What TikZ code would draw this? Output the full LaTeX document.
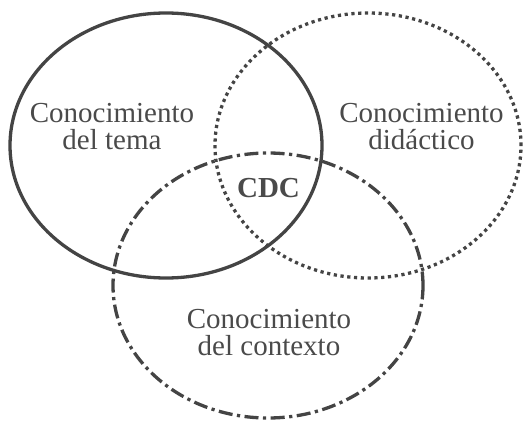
\documentclass[tikz,border=0pt]{standalone}
\usepackage{fontspec}
\setmainfont{Liberation Serif}
\definecolor{ln}{HTML}{444444}
\definecolor{tx}{HTML}{4A4A4A}
\begin{document}
\begin{tikzpicture}[x=1pt,y=-1pt,
  ring/.style={draw=ln,line width=3.3pt},
  dotring/.style={ring,dash pattern=on 3.2pt off 3.6pt},
  dashdotring/.style={ring,dash pattern=on 14pt off 4.5pt on 3.2pt off 4.5pt},
  lbl/.style={text=tx,align=center,inner sep=0pt,font=\fontsize{29}{27}\selectfont},
  core/.style={text=tx,inner sep=0pt,font=\fontsize{29}{29}\selectfont\bfseries}]
\useasboundingbox (0,0) rectangle (524,422);
\coordinate (ca) at (166,145.5);
\coordinate (cb) at (368,145.5);
\coordinate (cc) at (268,285.5);
\draw[ring] (ca) ellipse [x radius=156pt, y radius=132.5pt];
\draw[dotring] (cb) ellipse [x radius=153pt, y radius=132.5pt];
\draw[dashdotring] (cc) ellipse [x radius=155pt, y radius=132.5pt];
\node[lbl] (tema) at (112,127) {Conocimiento\\del tema};
\node[lbl] (did) at (421.5,127) {Conocimiento\\didáctico};
\node[lbl] (ctx) at (269,333) {Conocimiento\\del contexto};
\node[core] (cdc) at (268.5,188) {CDC};
\end{tikzpicture}
\end{document}
